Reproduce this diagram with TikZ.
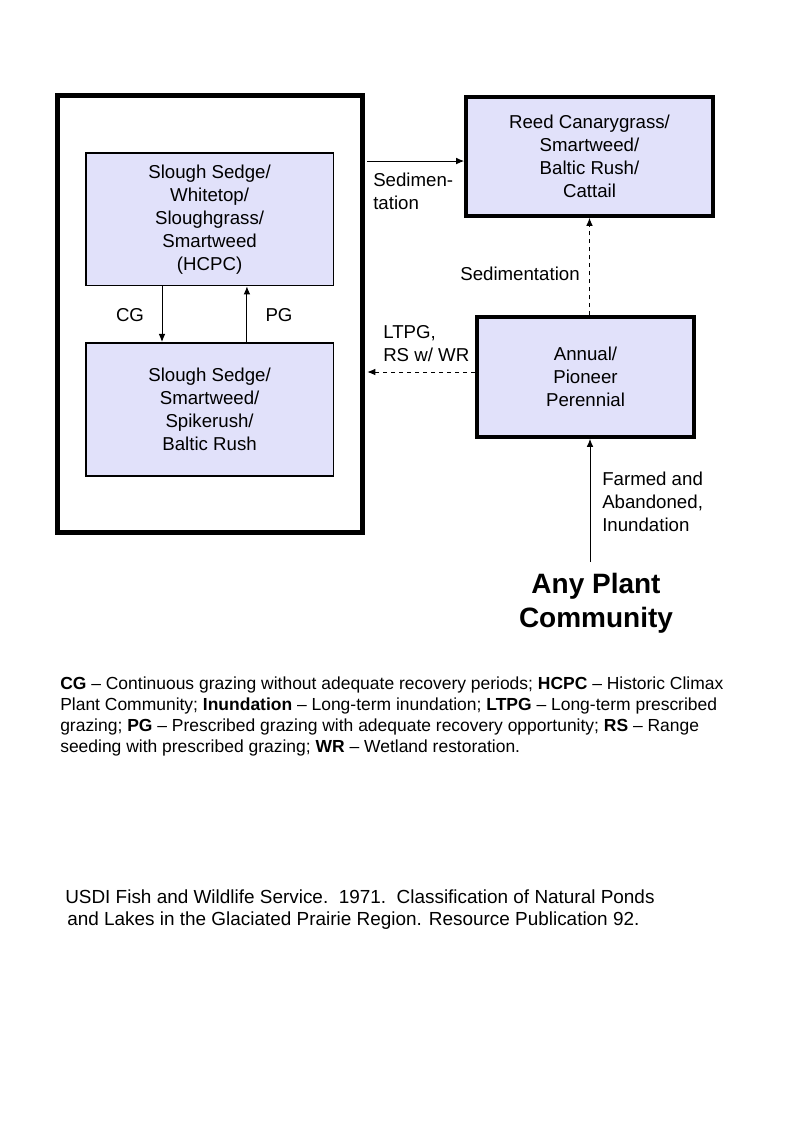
\documentclass[tikz,border=0pt]{standalone}
\usepackage{fontspec}
\setmainfont{Liberation Sans}
\usetikzlibrary{arrows.meta}

\definecolor{boxfill}{RGB}{225,225,250}

\begin{document}
\begin{tikzpicture}[x=0.75pt,y=-0.75pt,
    community/.style={draw, fill=boxfill, line width=1.3pt, align=center,
        inner sep=0pt, font=\fontsize{14}{17.25}\selectfont},
    thickbox/.style={community, line width=2.8pt},
    lbl/.style={align=left, inner sep=0pt, font=\fontsize{14}{17.25}\selectfont},
    arr/.style={-{Latex[length=6pt,width=5pt]}, line width=0.7pt}]

\useasboundingbox (0,0) rectangle (800,1143);

% Outer frame
\node[draw,
    line width=3.6pt,
    minimum width=228.75pt,
    minimum height=327.75pt] (frame) at (210,314){};

% Box 1
\node[community,
    minimum width=185.8pt,
    minimum height=99.5pt] (hcpc) at (209.6,219.2)
    {Slough Sedge/\\Whitetop/\\Sloughgrass/\\Smartweed\\(HCPC)};

% Box 2
\node[community,
    minimum width=185.8pt,
    minimum height=100pt] (sedge) at (209.6,409.5)
    {Slough Sedge/\\Smartweed/\\Spikerush/\\Baltic Rush};

% Box 3
\node[thickbox,
    minimum width=185.25pt,
    minimum height=89.25pt] (reed) at (589.5,156.5)
    {Reed Canarygrass/\\Smartweed/\\Baltic Rush/\\Cattail};

% Box 4
\node[thickbox,
    minimum width=162.75pt,
    minimum height=90pt] (annual) at (585.5,377)
    {Annual/\\Pioneer\\Perennial};

% Any plant community
\node[align=center, inner sep=0pt,
    font=\fontsize{21}{25.5}\selectfont\bfseries] (any) at (596,603)
    {Any Plant\\Community};
\coordinate (farm) at (590,562);

% Arrows
\draw[arr] ([xshift=-35.7pt]hcpc.south) -- ([xshift=-35.7pt]sedge.north);
\draw[arr] ([xshift=28pt]sedge.north) -- ([xshift=28pt]hcpc.south);
\draw[arr, shorten <=1.8pt] ([yshift=-3.4pt]reed.west -| frame.east) -- ([yshift=-3.4pt]reed.west);
\draw[arr, dashed] (annual.north -| reed.south) -- (reed.south);
\draw[arr, dashed, shorten >=1.8pt] ([yshift=3.75pt]annual.west) -- ([yshift=3.75pt]annual.west -| frame.east);
\draw[arr] (farm) -- (farm |- annual.south);

% Arrow labels
\node[lbl] (cg) at (130,315) {CG};
\node[lbl] (pg) at (279,315) {PG};
\node[lbl, anchor=west] (sed1) at (373,191) {Sedimen-\\tation};
\node[lbl] (sed2) at (520,274) {Sedimentation};
\node[lbl, anchor=west] (ltpg) at (383,344) {LTPG,\\RS w/ WR};
\node[lbl, anchor=west] (farmed) at (602,502) {Farmed and\\Abandoned,\\Inundation};

% Legend
\node[align=left, inner sep=0pt, anchor=north west,
    font=\fontsize{13.1}{15.75}\selectfont] (legend) at (60,677)
    {\textbf{CG} -- Continuous grazing without adequate recovery periods; \textbf{HCPC} -- Historic Climax\\
     Plant Community; \textbf{Inundation} -- Long-term inundation; \textbf{LTPG} -- Long-term prescribed\\
     grazing; \textbf{PG} -- Prescribed grazing with adequate recovery opportunity; \textbf{RS} -- Range\\
     seeding with prescribed grazing; \textbf{WR} -- Wetland restoration.};

% Reference
\node[align=left, inner sep=0pt, anchor=north west,
    font=\fontsize{14.2}{16.5}\selectfont] (source) at (65,890)
    {USDI Fish and Wildlife Service.\ \ 1971.\ \ Classification of Natural Ponds\\
     \hspace{1.5pt}and Lakes in the Glaciated Prairie Region. Resource Publication 92.};

\end{tikzpicture}
\end{document}
